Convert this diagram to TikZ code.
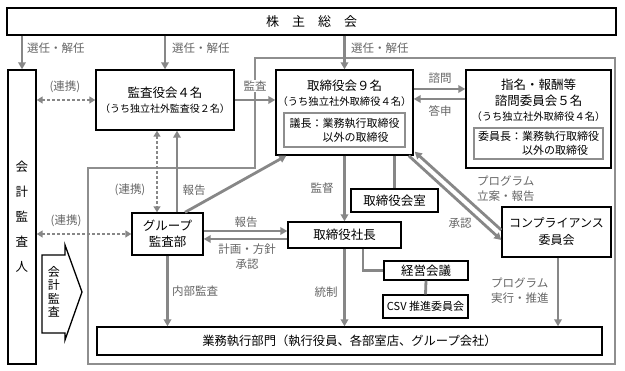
\documentclass[tikz,border=0pt]{standalone}
\usepackage{fontspec}
\setmainfont{Noto Sans CJK JP}
\usepackage{xcolor}
\usetikzlibrary{arrows.meta}
\definecolor{Arrow}{HTML}{878787}
\definecolor{Frame}{HTML}{8E8E8E}
\definecolor{Label}{HTML}{666666}

\begin{document}
\begin{tikzpicture}[x=1pt,y=-1pt,
  arr/.style={-{Triangle[length=7pt,width=7.5pt]},draw=Arrow,line width=2.8pt},
  link/.style={{Triangle[length=6pt,width=7pt]}-{Triangle[length=6pt,width=7pt]},
               draw=Arrow,line width=2.8pt,dash pattern=on 3pt off 2pt},
  tie/.style={draw=Arrow,line width=2.8pt},
  frame/.style={draw=Frame,line width=1.5pt},
  box/.style={draw,line width=1.4pt,fill=white,inner sep=0pt,align=center,
              font=\fontsize{12.5}{16}\selectfont},
  inbox/.style={draw=Frame,line width=1.3pt,inner sep=0pt,align=left,
                font=\fontsize{11}{14}\selectfont},
  title/.style={inner sep=0pt,align=center,font=\fontsize{12.5}{16}\selectfont},
  lbl/.style={text=Label,inner sep=1pt,align=left,font=\fontsize{11.5}{15}\selectfont}
]

  \fill[white] (0,0) rectangle (625,371);
  \useasboundingbox (0,0) rectangle (625,371);

  \draw[frame] (255,58) -- (615,58) -- (615,364) -- (88,364) -- (88,168) -- (255,168) -- cycle;

  \node[box,minimum width=609,minimum height=27,font=\fontsize{13}{16}\selectfont]
    (kabu) at (311.5,21.5) {株　主　総　会};

  \node[box,minimum width=28,minimum height=294,font=\fontsize{12.5}{25}\selectfont]
    (kaikei) at (22,217) {会\\計\\監\\査\\人};

  \node[box,minimum width=138,minimum height=60] (kansayaku) at (165,100)
    {監査役会４名\\[-1pt]{\fontsize{10}{12}\selectfont（うち独立社外監査役２名）}};

  \node[box,minimum width=137,minimum height=85] (torishimari) at (344.5,112.5) {};
  \node[title] (torishimari-t) at (344.5,93)
    {取締役会９名\\[-1pt]{\fontsize{10.3}{12}\selectfont（うち独立社外取締役４名）}};
  \node[inbox,minimum width=121,minimum height=34] (torishimari-chair) at (344.5,130)
    {議長：業務執行取締役\\\phantom{議長：}以外の取締役};

  \node[box,minimum width=145,minimum height=98] (shimei) at (538.5,119) {};
  \node[title] (shimei-t) at (538.5,100)
    {指名・報酬等\\諮問委員会５名\\[-1pt]{\fontsize{10.3}{12}\selectfont（うち独立社外取締役４名）}};
  \node[inbox,minimum width=129,minimum height=31] (shimei-chair) at (538.5,143.5)
    {委員長：業務執行取締役\\\phantom{委員長：}以外の取締役};

  \node[box,minimum width=71,minimum height=42] (group) at (167.5,234) {グループ\\監査部};
  \node[box,minimum width=113,minimum height=26] (shacho) at (344.5,235) {取締役社長};
  \node[box,minimum width=87,minimum height=23] (shitsu) at (394.5,200.5) {取締役会室};
  \node[box,minimum width=109,minimum height=50,font=\fontsize{12}{17}\selectfont]
    (compliance) at (556.5,232) {コンプライアンス\\委員会};
  \node[box,minimum width=84,minimum height=19] (keiei) at (426,270.5) {経営会議};
  \node[box,minimum width=85,minimum height=23,font=\fontsize{11}{14}\selectfont]
    (csv) at (425.5,306.5) {CSV 推進委員会};
  \node[box,minimum width=505,minimum height=28,font=\fontsize{12.3}{14}\selectfont]
    (gyomu) at (349.5,341) {業務執行部門（執行役員、各部室店、グループ会社）};

  % 会計監査
  \draw[line width=1.3pt,fill=white] (42,255) -- (65,255) -- (65,245) -- (82,292)
    -- (65,340) -- (65,333) -- (42,333) -- cycle;
  \node[inner sep=0pt,align=center,font=\fontsize{12}{13.5}\selectfont]
    (audit) at (54,292) {会\\計\\監\\査};

  % 選任・解任
  \draw[arr] (kabu.south -| kaikei) -- (kaikei.north);
  \draw[arr] (kabu.south -| kansayaku) -- (kansayaku.north);
  \draw[arr] (kabu.south -| torishimari) -- (torishimari.north);
  \node[lbl,anchor=west] (sennin-a) at (26,48) {選任・解任};
  \node[lbl,anchor=west] (sennin-b) at (171,48) {選任・解任};
  \node[lbl,anchor=west] (sennin-c) at (350,48) {選任・解任};

  \draw[arr] (kansayaku.east) -- (kansayaku.east -| torishimari.west);
  \node[lbl,fill=white] (kansa) at (255,86) {監査};

  \draw[arr] (torishimari.east |- 0,89) -- (shimei.west |- 0,89);
  \draw[arr] (shimei.west |- 0,99) -- (torishimari.east |- 0,99);
  \node[lbl] (shimon) at (440,78) {諮問};
  \node[lbl] (toushin) at (440,111) {答申};

  % 連携
  \draw[link] (kaikei.east |- kansayaku) -- (kansayaku.west);
  \draw[link] (kansayaku.south -| 157,0) -- (group.north -| 157,0);
  \draw[link] (kaikei.east |- group) -- (group.west);
  \node[lbl] (renkei-a) at (65,87) {(連携)};
  \node[lbl] (renkei-b) at (130,190) {(連携)};
  \node[lbl] (renkei-c) at (66,221) {(連携)};

  \draw[arr] (group.north -| 177,0) -- (kansayaku.south -| 177,0);
  \draw[arr] (group.north -| 185,0) -- ([xshift=11pt]torishimari.south west);
  \node[lbl] (houkoku-a) at (194,190) {報告};

  \draw[arr] (group.east |- 0,231) -- (shacho.west |- 0,231);
  \draw[arr] (shacho.west |- 0,239) -- (group.east |- 0,239);
  \node[lbl] (houkoku-b) at (246,222) {報告};
  \node[lbl,align=center] (keikaku) at (247,257) {計画・方針\\承認};

  \draw[arr] (torishimari.south) -- (shacho.north);
  \node[lbl] (kantoku) at (322,188) {監督};
  \draw[tie] (torishimari.south -| shitsu) -- (shitsu.north);

  \draw[arr] ([xshift=-5pt]torishimari.south east) -- ([yshift=-8pt]compliance.west);
  \draw[arr] ([yshift=2pt]compliance.west) -- ([xshift=1pt,yshift=4pt]torishimari.south east);
  \node[lbl,anchor=west] (rian) at (476,189) {プログラム\\立案・報告};
  \node[lbl] (shounin) at (460,223) {承認};

  \draw[arr] (compliance.south -| 558,0) -- (gyomu.north -| 558,0);
  \node[lbl,anchor=west] (jikkou) at (490,291) {プログラム\\実行・推進};

  \draw[arr] (shacho.south) -- (gyomu.north -| shacho.south);
  \node[lbl] (tousei) at (326,292) {統制};
  \draw[tie] (shacho.south -| 363,0) |- (keiei.west);
  \draw[tie] (keiei.south) -- (csv.north);

  \draw[arr] (group.south) -- (gyomu.north -| group.south);
  \node[lbl,anchor=west] (naibu) at (171,291) {内部監査};

\end{tikzpicture}
\end{document}
